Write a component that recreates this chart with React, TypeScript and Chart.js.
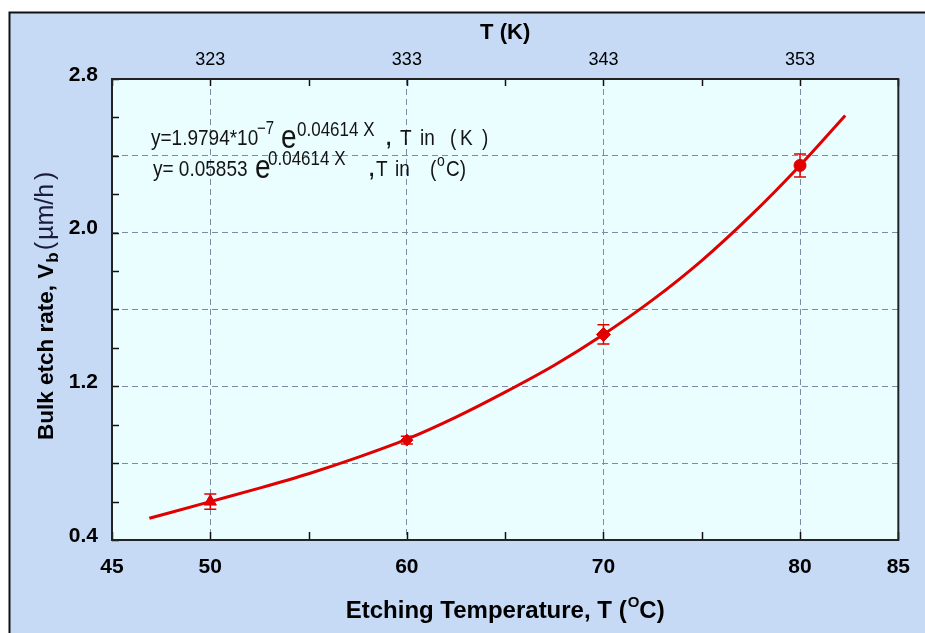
import React, { useEffect, useRef } from 'react';
import { Chart, registerables } from 'chart.js';

Chart.register(...registerables);

// ---- data ----
const tempC = [50, 60, 70, 80];
const etchRate = [0.6, 0.92, 1.47, 2.35];
const etchErr = [0.04, 0.02, 0.05, 0.06];
const markerStyles = ['triangle', 'rectRot', 'rectRot', 'circle'];
const markerSizes = [7, 6, 7, 6];

const fitT = [46.9, 50, 52.5, 55, 57.5, 60, 62.5, 65, 67.5, 70, 72.5, 75, 77.5, 80, 82.3];
const fitV = [0.513, 0.6, 0.67, 0.745, 0.83, 0.925, 1.04, 1.17, 1.31, 1.47, 1.65, 1.855, 2.09, 2.35, 2.61];

const xLabelValues = [45, 50, 60, 70, 80, 85];
const xGridValues = [50, 60, 70, 80];
const yLabelValues = [0.4, 1.2, 2.0, 2.8];
const kelvinLabelValues = [323, 333, 343, 353];

// ---- styling ----
const W = 925;
const H = 633;
const OUTER_BG = '#c6daf6';
const PLOT_BG = '#eafeff';
const GRID = '#7d8ca6';
const RED = '#e00000';
const FAM = '"Liberation Sans", Arial, sans-serif';

type Run = { t: string; font: string; dy?: number; gap?: number; color?: string };

function runsWidth(ctx: CanvasRenderingContext2D, runs: Run[]) {
  let w = 0;
  for (const r of runs) {
    ctx.font = r.font;
    w += (r.gap || 0) + ctx.measureText(r.t).width;
  }
  return w;
}

function drawRuns(ctx: CanvasRenderingContext2D, runs: Run[], x: number, y: number) {
  let cx = x;
  for (const r of runs) {
    cx += r.gap || 0;
    ctx.font = r.font;
    ctx.fillStyle = r.color || '#000';
    ctx.fillText(r.t, cx, y + (r.dy || 0));
    cx += ctx.measureText(r.t).width;
  }
  return cx;
}

const framePlugin = {
  id: 'framePlugin',
  beforeDraw(chart: any) {
    const ctx: CanvasRenderingContext2D = chart.ctx;
    const { left, top, right, bottom } = chart.chartArea;
    ctx.save();
    ctx.fillStyle = '#ffffff';
    ctx.fillRect(0, 0, W, H);
    ctx.fillStyle = OUTER_BG;
    ctx.fillRect(10, 13, W - 10, H - 13);
    ctx.strokeStyle = '#111';
    ctx.lineWidth = 2;
    ctx.beginPath();
    ctx.moveTo(9.5, H);
    ctx.lineTo(9.5, 12.5);
    ctx.lineTo(W, 12.5);
    ctx.stroke();
    ctx.fillStyle = PLOT_BG;
    ctx.fillRect(left, top, right - left, bottom - top);
    ctx.restore();
  },
  afterDatasetsDraw(chart: any) {
    const ctx: CanvasRenderingContext2D = chart.ctx;
    const xs = chart.scales.x;
    const ys = chart.scales.y;
    ctx.save();
    ctx.strokeStyle = RED;
    ctx.lineWidth = 1.5;
    for (let i = 0; i < tempC.length; i++) {
      const px = xs.getPixelForValue(tempC[i]);
      const y1 = ys.getPixelForValue(etchRate[i] + etchErr[i]);
      const y2 = ys.getPixelForValue(etchRate[i] - etchErr[i]);
      ctx.beginPath();
      ctx.moveTo(px, y1);
      ctx.lineTo(px, y2);
      ctx.moveTo(px - 6, y1);
      ctx.lineTo(px + 6, y1);
      ctx.moveTo(px - 6, y2);
      ctx.lineTo(px + 6, y2);
      ctx.stroke();
    }
    ctx.restore();
  },
  afterDraw(chart: any) {
    const ctx: CanvasRenderingContext2D = chart.ctx;
    const { left, top, right, bottom } = chart.chartArea;
    const xs = chart.scales.x;
    const ys = chart.scales.y;
    ctx.save();
    // inward ticks
    ctx.strokeStyle = '#111';
    ctx.lineWidth = 1.5;
    ctx.beginPath();
    for (let v = 45; v <= 85.001; v += 5) {
      const px = Math.round(xs.getPixelForValue(v)) + 0.5;
      ctx.moveTo(px, bottom);
      ctx.lineTo(px, bottom - 8);
      ctx.moveTo(px, top);
      ctx.lineTo(px, top + 7);
    }
    for (let k = 0; k <= 12; k++) {
      const v = 0.4 + k * 0.2;
      const py = Math.round(ys.getPixelForValue(v)) + 0.5;
      ctx.moveTo(left, py);
      ctx.lineTo(left + 7, py);
    }
    ctx.stroke();
    // plot border
    ctx.strokeStyle = '#222';
    ctx.lineWidth = 2;
    ctx.strokeRect(left, top, right - left, bottom - top);

    // x-axis title
    ctx.textBaseline = 'alphabetic';
    ctx.textAlign = 'left';
    const bf = (s: number) => `bold ${s}px ${FAM}`;
    const nf = (s: number) => `${s}px ${FAM}`;
    const xt: Run[] = [
      { t: 'Etching Temperature, T (', font: bf(24) },
      { t: 'O', font: bf(15), dy: -11, gap: 1 },
      { t: 'C)', font: bf(24) },
    ];
    const xw = runsWidth(ctx, xt);
    drawRuns(ctx, xt, (left + right) / 2 - xw / 2, 618);

    // y-axis title (rotated)
    ctx.save();
    ctx.translate(53, 440);
    ctx.rotate(-Math.PI / 2);
    const yt: Run[] = [
      { t: 'Bulk etch rate, V', font: bf(22.5) },
      { t: 'b', font: bf(17), dy: 5, gap: 1 },
      { t: '(', font: nf(25), gap: 2, color: '#1a1a3a' },
      { t: 'µm/h', font: nf(25), gap: 2, color: '#1a1a3a' },
      { t: ')', font: nf(25), gap: 4, color: '#1a1a3a' },
    ];
    drawRuns(ctx, yt, 0, 0);
    ctx.restore();

    // equation annotation (text slightly stretched vertically like the reference)
    const eq: [string, number, number, string][] = [
      ['y=1.9794*10', 151, 145, nf(19)],
      ['\u22127', 257, 134, nf(15)],
      ['e', 281, 148, nf(28)],
      ['0.04614 X', 297, 136, nf(17)],
      [',', 386, 145, bf(19)],
      ['T', 400, 145, nf(19)],
      ['in', 420, 145, nf(19)],
      ['(', 450, 145, nf(19)],
      ['K', 460, 145, nf(19)],
      [')', 482, 145, nf(19)],
      ['y= 0.05853', 153, 176, nf(19)],
      ['e', 255, 178, nf(28)],
      ['0.04614 X', 268, 165, nf(17)],
      [',', 369, 176, bf(19)],
      ['T', 376, 176, nf(19)],
      ['in', 395, 176, nf(19)],
      ['(', 430, 176, nf(19)],
      ['o', 437, 166, nf(14)],
      ['C)', 446, 176, nf(19)],
    ];
    ctx.fillStyle = '#141414';
    for (const [t, x, y, f] of eq) {
      ctx.save();
      ctx.translate(x, y);
      ctx.scale(1, 1.2);
      ctx.font = f;
      ctx.fillText(t, 0, 0);
      ctx.restore();
    }
    ctx.restore();
  },
};

export default function App() {
  const ref = useRef<HTMLCanvasElement | null>(null);
  useEffect(() => {
    if (!ref.current) return;
    const near = (a: number, b: number) => Math.abs(a - b) < 1e-6;
    const chart = new Chart(ref.current, {
      type: 'scatter',
      data: {
        datasets: [
          {
            label: 'fit',
            data: fitT.map((t, i) => ({ x: t, y: fitV[i] })),
            showLine: true,
            borderColor: RED,
            borderWidth: 3,
            pointRadius: 0,
            tension: 0.4,
            cubicInterpolationMode: 'monotone',
          } as any,
          {
            label: 'measured',
            data: tempC.map((t, i) => ({ x: t, y: etchRate[i] })),
            showLine: false,
            pointStyle: markerStyles as any,
            pointRadius: markerSizes,
            backgroundColor: RED,
            borderColor: RED,
            borderWidth: 1,
          } as any,
        ],
      },
      options: {
        responsive: false,
        animation: false,
        events: [],
        layout: { padding: { left: 0, top: 0, right: 25, bottom: 0 } },
        plugins: { legend: { display: false }, tooltip: { enabled: false }, title: { display: false } },
        scales: {
          x: {
            type: 'linear',
            position: 'bottom',
            min: 45,
            max: 85,
            afterFit: (s: any) => {
              s.height = 93;
            },
            ticks: {
              stepSize: 5,
              autoSkip: false,
              maxRotation: 0,
              padding: 15,
              color: '#000',
              font: { family: FAM, size: 21, weight: 'bold' },
              callback: (v: any) => (xLabelValues.some((l) => near(l, Number(v))) ? String(v) : ''),
            },
            grid: {
              drawTicks: false,
              lineWidth: 1,
              color: (c: any) =>
                c.tick && xGridValues.some((g) => near(g, c.tick.value)) ? GRID : 'rgba(0,0,0,0)',
            },
            border: { display: false, dash: [6, 4] },
          },
          x2: {
            type: 'linear',
            axis: 'x',
            position: 'top',
            min: 318,
            max: 358,
            afterFit: (s: any) => {
              s.height = 79;
            },
            ticks: {
              stepSize: 5,
              autoSkip: false,
              maxRotation: 0,
              padding: 8,
              color: '#000',
              font: { family: FAM, size: 18 },
              callback: (v: any) => (kelvinLabelValues.some((l) => near(l, Number(v))) ? String(v) : ''),
            },
            grid: { display: false, drawTicks: false },
            border: { display: false },
            title: {
              display: true,
              text: 'T (K)',
              color: '#000',
              font: { family: FAM, size: 22, weight: 'bold' },
              padding: { top: 20, bottom: 0 },
            },
          } as any,
          y: {
            type: 'linear',
            min: 0.4,
            max: 2.8,
            afterFit: (s: any) => {
              s.width = 112;
            },
            ticks: {
              stepSize: 0.4,
              autoSkip: false,
              padding: 14,
              labelOffset: -4,
              color: '#000',
              font: { family: FAM, size: 21, weight: 'bold' },
              callback: (v: any) =>
                yLabelValues.some((l) => near(l, Number(v))) ? Number(v).toFixed(1) : '',
            },
            grid: { drawTicks: false, lineWidth: 1, color: GRID },
            border: { display: false, dash: [6, 4] },
          },
        },
      },
      plugins: [framePlugin as any],
    });
    return () => chart.destroy();
  }, []);
  return (
    <div style={{ position: 'fixed', left: 0, top: 0, width: W, height: H, background: '#fff' }}>
      <canvas ref={ref} width={W} height={H} style={{ display: 'block', width: W, height: H }} />
    </div>
  );
}
